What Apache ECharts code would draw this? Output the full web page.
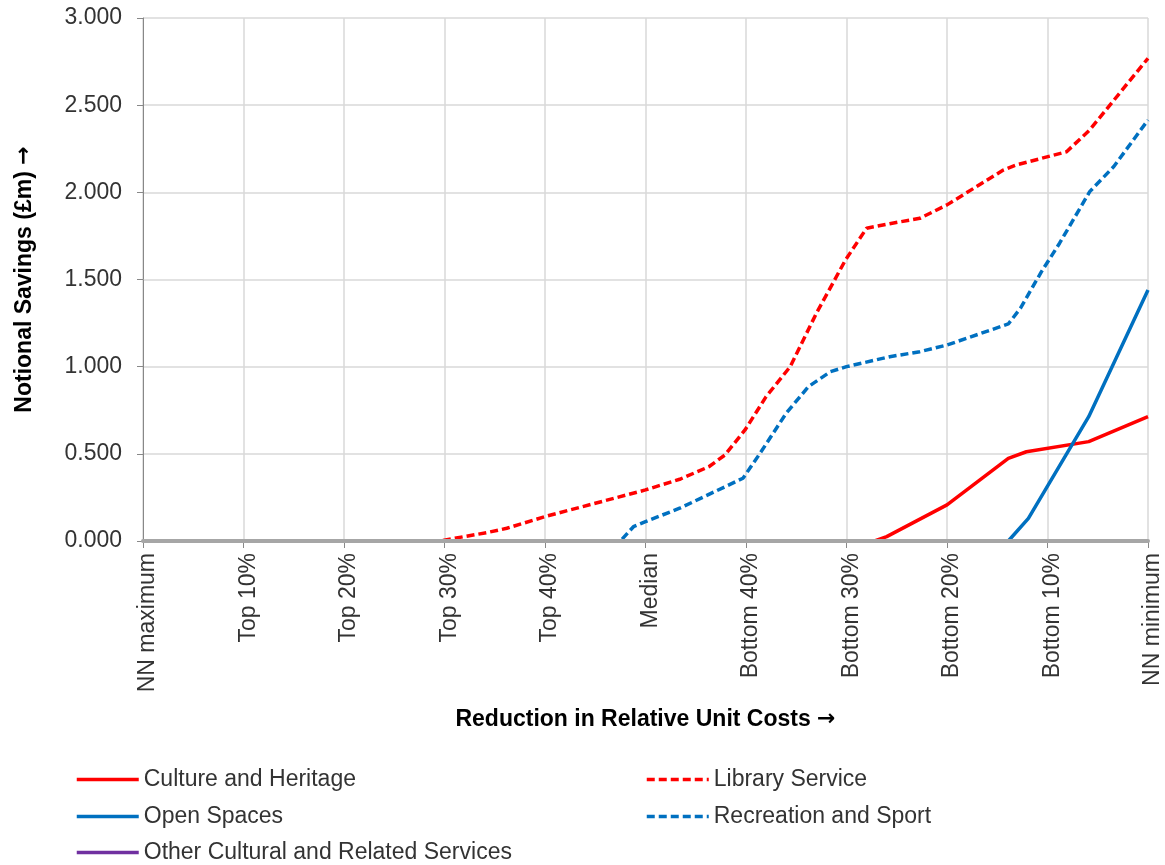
<!DOCTYPE html>
<html>
<head>
<meta charset="utf-8">
<script src="https://cdn.jsdelivr.net/npm/echarts@6/dist/echarts.min.js"></script>
<style>
  html, body { margin: 0; padding: 0; background: #fff; }
  #chart { width: 1165px; height: 865px; }
</style>
</head>
<body>
<div id="chart"></div>
<script>
// x positions run 0 (NN maximum) .. 100 (NN minimum), one label every 10
var xLabels = ['NN maximum', 'Top 10%', 'Top 20%', 'Top 30%', 'Top 40%', 'Median',
               'Bottom 40%', 'Bottom 30%', 'Bottom 20%', 'Bottom 10%', 'NN minimum'];

var cultureHeritage = [[0, 0], [72.8, 0], [74, 0.025], [80, 0.207], [86.1, 0.474],
                       [87.9, 0.512], [94.1, 0.57], [100, 0.713]];
var openSpaces = [[0, 0], [86.1, 0], [88.1, 0.13], [94.1, 0.713], [100, 1.44]];
var otherCultural = [[0, 0], [100, 0]];
var libraryService = [[0, 0], [29.5, 0], [34.2, 0.048], [36.2, 0.073], [40, 0.14],
                      [50, 0.293], [53.4, 0.354], [56.3, 0.426], [57.9, 0.493],
                      [59.9, 0.637], [62, 0.828], [64.4, 1.0], [67, 1.306],
                      [69.9, 1.612], [72, 1.794], [74.3, 1.82], [77.3, 1.851],
                      [80, 1.928], [85.6, 2.128], [86.9, 2.157], [91.9, 2.233],
                      [94.2, 2.358], [100, 2.769]];
var recreationSport = [[0, 0], [47.5, 0], [48.8, 0.082], [50, 0.111], [53.4, 0.188],
                       [59.7, 0.36], [61.4, 0.503], [64, 0.733], [66.2, 0.885],
                       [68.4, 0.971], [70, 1.0], [74.3, 1.057], [77.3, 1.086],
                       [80, 1.124], [86.1, 1.245], [87.3, 1.335], [89.4, 1.545],
                       [91.2, 1.708], [94.2, 2.004], [96.6, 2.148], [100, 2.415]];

var font = 'Liberation Sans, Arial, sans-serif';
var txt = '#333';

function line(name, data, color, dashed) {
    return {
        name: name, type: 'line', data: data, symbol: 'none',
        lineStyle: {color: color, width: 3.5, type: dashed ? [8, 4] : 'solid'},
        itemStyle: {color: color}
    };
}

// one legend box per entry, laid out as two columns like the original
function legendItem(name, left, top) {
    return {
        data: [name], left: left, top: top, padding: 0,
        itemWidth: 62, itemHeight: 14, itemGap: 0,
        itemStyle: {opacity: 0},
        lineStyle: {width: 3.5},
        textStyle: {fontSize: 23, color: txt, fontFamily: font}
    };
}

var arrowRich = {
    a: {fontSize: 23, fontWeight: 'bold', color: '#000', fontFamily: font},
    b: {fontSize: 22, fontWeight: 'bold', color: '#000', fontFamily: 'DejaVu Sans'}
};

var chart = echarts.init(document.getElementById('chart'));
chart.setOption({
    animation: false,
    textStyle: {fontFamily: font},
    grid: {left: 143, right: 17, top: 18, bottom: 324},
    legend: [
        legendItem('Culture and Heritage', 75, 768),
        legendItem('Open Spaces', 75, 805),
        legendItem('Other Cultural and Related Services', 75, 841),
        legendItem('Library Service', 645, 768),
        legendItem('Recreation and Sport', 645, 805)
    ],
    xAxis: [{
        type: 'value', min: 0, max: 100, interval: 10,
        name: '{a|Reduction in Relative Unit Costs }{b|\u2192}',
        nameLocation: 'middle', nameGap: 167,
        nameTextStyle: {rich: arrowRich},
        axisLine: {show: false},
        axisTick: {show: true, length: 7, lineStyle: {color: '#888'}},
        axisLabel: {
            rotate: 90, fontSize: 23, color: txt, margin: 12,
            verticalAlign: 'top', lineHeight: 10,
            formatter: function(v) { return xLabels[Math.round(v / 10)]; }
        },
        splitLine: {show: true, lineStyle: {color: '#d9d9d9', width: 1.5}}
    }, {
        // thick base line drawn over the zero runs of the series
        type: 'value', min: 0, max: 100, position: 'bottom', z: 5,
        axisLine: {show: true, onZero: false, lineStyle: {color: '#a6a6a6', width: 4}},
        axisTick: {show: false}, axisLabel: {show: false}, splitLine: {show: false}
    }],
    yAxis: {
        type: 'value', min: 0, max: 3, interval: 0.5,
        name: '{a|Notional Savings (\u00a3m) }{b|\u2192}',
        nameLocation: 'middle', nameGap: 107, nameRotate: 90,
        nameTextStyle: {rich: arrowRich},
        axisLine: {show: true, lineStyle: {color: '#888', width: 1}},
        axisTick: {show: true, length: 6, lineStyle: {color: '#888'}},
        axisLabel: {fontSize: 23, color: txt, margin: 21,
                    formatter: function(v) { return v.toFixed(3); }},
        splitLine: {show: true, lineStyle: {color: '#d9d9d9', width: 1.5}}
    },
    series: [
        line('Culture and Heritage', cultureHeritage, '#ff0000', false),
        line('Open Spaces', openSpaces, '#0070c0', false),
        line('Other Cultural and Related Services', otherCultural, '#7030a0', false),
        line('Library Service', libraryService, '#ff0000', true),
        line('Recreation and Sport', recreationSport, '#0070c0', true)
    ]
});
</script>
</body>
</html>
